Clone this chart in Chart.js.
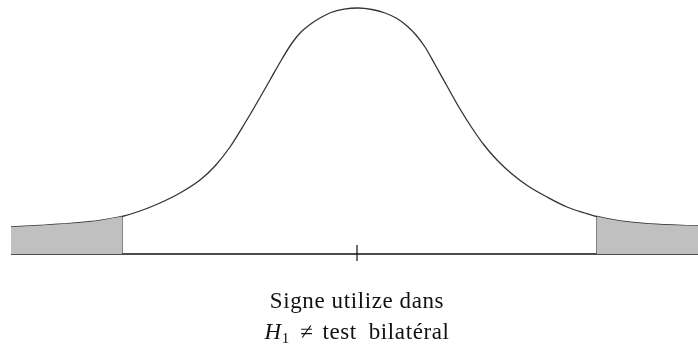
<!DOCTYPE html>
<html>
<head>
<meta charset="utf-8">
<script src="https://cdn.jsdelivr.net/npm/chart.js@4.4.1/dist/chart.umd.min.js"></script>
<style>
  html, body { margin: 0; padding: 0; background: #fff; }
  #wrap { position: relative; width: 698px; height: 347px; }
  .caption {
    position: absolute; left: 0; width: 714px; text-align: center;
    font-family: "Liberation Serif", "DejaVu Serif", serif; font-size: 23px; line-height: 25px;
    letter-spacing: 0.6px; color: #111; white-space: pre;
  }
  .caption sub { font-size: 15px; vertical-align: -4px; letter-spacing: 0; }
  .caption .op { margin: 0 9px 0 11px; }
  .caption .gap { display: inline-block; width: 12px; }
</style>
</head>
<body>
<div id="wrap">
  <canvas id="myChart" width="698" height="347"></canvas>
  <div class="caption" style="top:288px;">Signe utilize dans</div>
  <div class="caption" style="top:319px;"><i>H</i><sub>1</sub><span class="op">≠</span>test<span class="gap"></span>bilatéral</div>
</div>
<script>
// Curve (x along the axis, height above the baseline)
const curveX = [0, 29, 59, 89, 111, 129, 149, 169, 189, 204, 219, 234, 247, 259, 271, 281, 290, 299, 309, 320, 333, 347,
                361, 374, 386, 396, 405, 414, 424, 436, 449, 461, 473, 486, 501, 517, 536, 556, 574, 586, 609, 639, 687];
const curveH = [27, 28.5, 30.5, 33.5, 37.5, 43, 51, 61, 74, 88, 107, 131, 153, 174, 195, 211, 222, 229.5, 236, 241.5, 244.8, 246,
                244.5, 241, 235.5, 228, 219, 207, 189.5, 168, 145, 126, 109, 94, 80, 68, 57, 47, 41, 37.5, 33, 30, 28];

// Critical values (rejection region limits) and the centre tick
const leftCut = 111;
const rightCut = 586;
const centre = 346;
const tickHalf = [9, -7];

const xMin = 0;
const xMax = 687;

const curve = curveX.map((x, i) => ({ x: x, y: curveH[i] }));
const leftTail = curve.filter(p => p.x <= leftCut);
const rightTail = curve.filter(p => p.x >= rightCut);
const hAt = x => curveH[curveX.indexOf(x)];

const ctx = document.getElementById('myChart');

const config = {
  type: 'line',
  data: {
    datasets: [
      {
        data: leftTail,
        fill: 'origin',
        backgroundColor: '#c0c0c0',
        borderWidth: 0
      },
      {
        data: rightTail,
        fill: 'origin',
        backgroundColor: '#c0c0c0',
        borderWidth: 0
      },
      {
        data: curve,
        borderColor: '#333',
        borderWidth: 1.3
      },
      {
        data: [{ x: leftCut, y: 0 }, { x: leftCut, y: hAt(leftCut) }],
        borderColor: '#444',
        borderWidth: 1.3
      },
      {
        data: [{ x: rightCut, y: 0 }, { x: rightCut, y: hAt(rightCut) }],
        borderColor: '#444',
        borderWidth: 1.3
      },
      {
        data: [{ x: xMin, y: 0 }, { x: xMax, y: 0 }],
        borderColor: '#111',
        borderWidth: 1.4
      },
      {
        data: [{ x: centre, y: tickHalf[0] }, { x: centre, y: tickHalf[1] }],
        borderColor: '#111',
        borderWidth: 1.2
      }
    ]
  },
  options: {
    responsive: false,
    animation: false,
    clip: false,
    elements: { point: { radius: 0 }, line: { cubicInterpolationMode: 'monotone' } },
    layout: { padding: { left: 11, right: 0, top: 0, bottom: 93 } },
    plugins: {
      legend: { display: false },
      tooltip: { enabled: false }
    },
    scales: {
      x: { type: 'linear', min: xMin, max: xMax, display: false },
      y: { min: 0, max: 254, display: false }
    }
  }
};

const myChart = new Chart(ctx, config);
</script>
</body>
</html>
